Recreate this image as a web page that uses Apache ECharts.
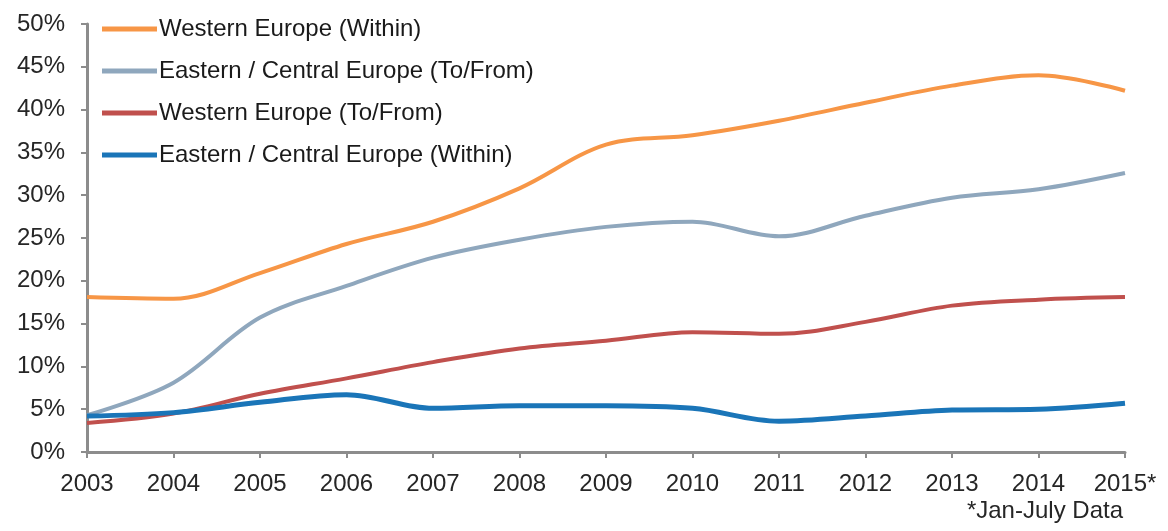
<!DOCTYPE html>
<html>
<head>
<meta charset="utf-8">
<script src="https://cdn.jsdelivr.net/npm/echarts@6/dist/echarts.min.js"></script>
<style>
  html, body { margin: 0; padding: 0; background: #fff; }
  #chart { width: 1168px; height: 531px; }
</style>
</head>
<body>
<div id="chart"></div>
<script>
// data (percent)
const years = ['2003', '2004', '2005', '2006', '2007', '2008', '2009', '2010', '2011', '2012', '2013', '2014', '2015*'];
const westernWithin = [18.1, 17.9, 20.9, 24.3, 26.9, 30.8, 35.9, 37.0, 38.7, 40.8, 42.8, 44.0, 42.2];
const easternToFrom = [4.3, 8.1, 15.7, 19.4, 22.7, 24.8, 26.3, 26.9, 25.2, 27.6, 29.7, 30.7, 32.6];
const westernToFrom = [3.4, 4.5, 6.8, 8.6, 10.5, 12.1, 13.0, 14.0, 13.8, 15.2, 17.1, 17.8, 18.1];
const easternWithin = [4.2, 4.6, 5.8, 6.7, 5.1, 5.4, 5.4, 5.1, 3.6, 4.2, 4.9, 5.0, 5.7];

const font = '"Liberation Sans", Arial, sans-serif';
const axisGray = '#8c8c8c';

const chart = echarts.init(document.getElementById('chart'));

function line(name, data, color, width) {
    return {
        name: name,
        type: 'line',
        data: data,
        smooth: 0.35,
        symbol: 'none',
        lineStyle: { color: color, width: width },
        itemStyle: { color: color }
    };
}

chart.setOption({
    animation: false,
    textStyle: { fontFamily: font },
    grid: { left: 87, right: 43, top: 24, bottom: 79 },
    legend: {
        orient: 'vertical',
        left: 97,
        top: 12,
        icon: 'rect',
        itemWidth: 55,
        itemHeight: 5,
        itemGap: 18,
        textStyle: { fontSize: 24, lineHeight: 24, color: '#1a1a1a', fontFamily: font, padding: [0, 0, 0, -3] },
        data: ['Western Europe (Within)', 'Eastern / Central Europe (To/From)', 'Western Europe (To/From)', 'Eastern / Central Europe (Within)']
    },
    xAxis: {
        type: 'category',
        data: years,
        boundaryGap: false,
        axisLine: { show: true, lineStyle: { color: axisGray, width: 3 } },
        axisTick: { show: true, length: 6, lineStyle: { color: axisGray, width: 2 } },
        axisLabel: { fontSize: 24, color: '#262626', margin: 20, fontFamily: font }
    },
    yAxis: {
        type: 'value',
        min: 0,
        max: 50,
        interval: 5,
        axisLine: { show: true, lineStyle: { color: axisGray, width: 3 } },
        axisTick: { show: true, length: 6, lineStyle: { color: axisGray, width: 2 } },
        splitLine: { show: false },
        axisLabel: { formatter: '{value}%', fontSize: 24, color: '#262626', margin: 22, fontFamily: font }
    },
    graphic: [{
        type: 'text',
        right: 45,
        top: 499,
        style: { text: '*Jan-July Data', fontSize: 24, fill: '#262626', fontFamily: font }
    }],
    series: [
        line('Western Europe (Within)', westernWithin, '#f79646', 4),
        line('Eastern / Central Europe (To/From)', easternToFrom, '#8fa7bd', 4),
        line('Western Europe (To/From)', westernToFrom, '#c0504d', 4),
        line('Eastern / Central Europe (Within)', easternWithin, '#1a75b8', 5)
    ]
});
</script>
</body>
</html>
